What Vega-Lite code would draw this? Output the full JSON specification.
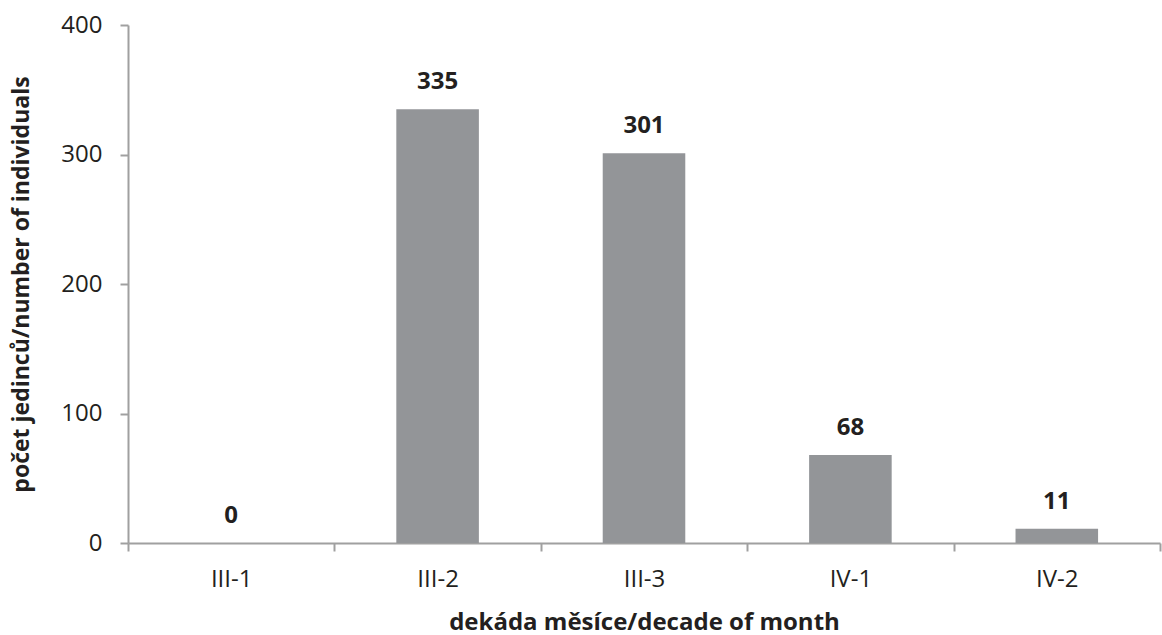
{
  "$schema": "https://vega.github.io/schema/vega-lite/v6.json",
  "autosize": {"type": "none"},
  "padding": {"left": 128, "top": 25, "right": 2, "bottom": 92},
  "width": 1032,
  "height": 518,
  "background": "white",
  "config": {"view": {"stroke": null}, "font": "Open Sans"},
  "data": {"values": [
    {"dekada": "III-1", "pocet": 0},
    {"dekada": "III-2", "pocet": 335},
    {"dekada": "III-3", "pocet": 301},
    {"dekada": "IV-1", "pocet": 68},
    {"dekada": "IV-2", "pocet": 11}
  ]},
  "encoding": {
    "x": {"field": "dekada", "type": "nominal", "sort": null,
      "scale": {"paddingInner": 0, "paddingOuter": 0},
      "axis": {"title": "dekáda měsíce/decade of month", "labelAngle": 0,
        "labelFont": "Open Sans", "labelFontSize": 24, "labelColor": "#231F20", "labelPadding": 16,
        "titleFont": "Open Sans", "titleFontSize": 24, "titleFontWeight": "bold", "titleColor": "#231F20", "titlePadding": 19,
        "domainColor": "#A0A0A0", "domainWidth": 2, "tickColor": "#A0A0A0", "tickWidth": 2, "tickSize": 8, "tickBand": "extent"}},
    "y": {"field": "pocet", "type": "quantitative",
      "scale": {"domain": [0, 400]},
      "axis": {"title": "počet jedinců/number of individuals", "values": [0, 100, 200, 300, 400], "grid": false,
        "labelFont": "Open Sans", "labelFontSize": 24, "labelColor": "#231F20", "labelPadding": 18,
        "titleFont": "Open Sans", "titleFontSize": 23, "titleFontWeight": "bold", "titleColor": "#231F20", "titlePadding": 27,
        "domainColor": "#A0A0A0", "domainWidth": 2, "tickColor": "#A0A0A0", "tickWidth": 2, "tickSize": 8}}
  },
  "layer": [
    {"mark": {"type": "bar", "color": "#939598", "width": {"band": 0.4}}},
    {"mark": {"type": "text", "baseline": "alphabetic", "dy": -20, "fontWeight": "bold", "fontSize": 24, "color": "#231F20", "font": "Open Sans"},
     "encoding": {"text": {"field": "pocet", "type": "quantitative"}}}
  ]
}
